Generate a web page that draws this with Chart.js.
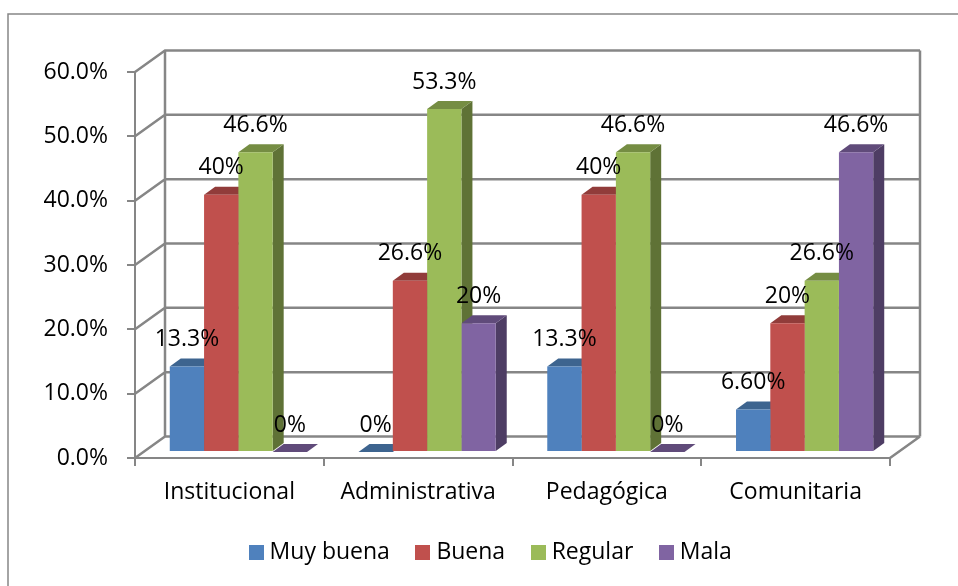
<!DOCTYPE html>
<html><head><meta charset="utf-8">
<style>html,body{margin:0;padding:0;background:#fff}#w{width:958px;height:586px;position:relative}</style>
<script src="https://cdn.jsdelivr.net/npm/chart.js@4"></script>
</head><body><div id="w"><canvas id="c" width="958" height="586"></canvas></div>
<script>
const categories = ['Institucional','Administrativa','Pedagógica','Comunitaria'];
const muyBuena = [13.3, 0, 13.3, 6.6];
const buena = [40, 26.6, 40, 20];
const regular = [46.6, 53.3, 46.6, 26.6];
const mala = [0, 20, 0, 46.6];
const muyBuenaLabels = ['13.3%','0%','13.3%','6.60%'];
const buenaLabels = ['40%','26.6%','40%','20%'];
const regularLabels = ['46.6%','53.3%','46.6%','26.6%'];
const malaLabels = ['0%','20%','0%','46.6%'];
const allLabels = [muyBuenaLabels, buenaLabels, regularLabels, malaLabels];
const colors = ['#4F81BD','#C0504D','#9BBB59','#8064A2'];
const topCol = ['#3D648F','#913C3A','#758D43','#604B7A'];
const sideCol = ['#2F4E70','#722F2E','#5F7236','#4E3D64'];
const FONT = '"Open Sans", sans-serif';
const FS = 23;
const GRID = '#868686';
const WALL = {dx:30, dy:-21.5};
const BAR = {dx:9, dy:-6, ddx:11, ddy:-8};

// 15px legend swatches, used as point styles so the text sits close to them
const swatches = colors.map(col=>{
  const s = document.createElement('canvas'); s.width = 15; s.height = 15;
  const g = s.getContext('2d'); g.fillStyle = col; g.fillRect(0,0,15,15);
  return s;
});

const plugin3d = {
  id:'plugin3d',
  afterLayout(chart){
    const L = chart.legend;
    L.left += 48; L.right += 48;
    L.top = 510; L.bottom = 595;
  },
  beforeDraw(chart){
    const c = chart.ctx;
    c.save(); c.strokeStyle = GRID; c.lineWidth = 1.5;
    c.beginPath(); c.moveTo(8,586); c.lineTo(8,14); c.lineTo(958,14); c.stroke();
    c.restore();
  },
  beforeDatasetsDraw(chart){
    const c = chart.ctx, y = chart.scales.y, a = chart.chartArea;
    c.save(); c.strokeStyle = GRID; c.lineWidth = 2.5; c.beginPath();
    y.ticks.forEach(t=>{
      const p = y.getPixelForValue(t.value);
      c.moveTo(a.left,p); c.lineTo(a.left+WALL.dx,p+WALL.dy); c.lineTo(a.right+WALL.dx,p+WALL.dy);
    });
    const py0 = y.getPixelForValue(0), py1 = y.getPixelForValue(y.max);
    c.moveTo(a.left+WALL.dx,py0+WALL.dy); c.lineTo(a.left+WALL.dx,py1+WALL.dy);
    c.moveTo(a.right+WALL.dx,py0+WALL.dy); c.lineTo(a.right+WALL.dx,py1+WALL.dy);
    c.moveTo(a.right,py0); c.lineTo(a.right+WALL.dx,py0+WALL.dy);
    c.stroke(); c.restore();
    // tops and sides go left to right, the front faces then cover them
    c.save(); c.translate(BAR.dx,BAR.dy);
    categories.forEach((_,i)=>{
      chart.data.datasets.forEach((ds,d)=>{
        const b = chart.getDatasetMeta(d).data[i];
        const l=b.x-b.width/2, r=b.x+b.width/2;
        c.fillStyle = sideCol[d]; c.beginPath();
        c.moveTo(r,b.y); c.lineTo(r+BAR.ddx,b.y+BAR.ddy); c.lineTo(r+BAR.ddx,b.base+BAR.ddy); c.lineTo(r,b.base); c.closePath(); c.fill();
        c.fillStyle = topCol[d]; c.beginPath();
        c.moveTo(l,b.y); c.lineTo(l+BAR.ddx,b.y+BAR.ddy); c.lineTo(r+BAR.ddx,b.y+BAR.ddy); c.lineTo(r,b.y); c.closePath(); c.fill();
      });
    });
    c.restore();
  },
  beforeDatasetDraw(chart){ chart.ctx.save(); chart.ctx.translate(BAR.dx,BAR.dy); },
  afterDatasetDraw(chart){ chart.ctx.restore(); },
  afterDatasetsDraw(chart){
    const c = chart.ctx;
    c.save(); c.font = FS+'px '+FONT; c.fillStyle='#000'; c.textAlign='center'; c.textBaseline='middle';
    chart.data.datasets.forEach((ds,d)=>{
      chart.getDatasetMeta(d).data.forEach((b,i)=>{
        c.fillText(allLabels[d][i], b.x+BAR.dx, b.y+BAR.dy-27);
      });
    });
    c.restore();
  }
};

new Chart(document.getElementById('c'),{
  type:'bar',
  data:{labels:categories,datasets:[
    {label:'Muy buena',data:muyBuena,backgroundColor:colors[0]},
    {label:'Buena',data:buena,backgroundColor:colors[1]},
    {label:'Regular',data:regular,backgroundColor:colors[2]},
    {label:'Mala',data:mala,backgroundColor:colors[3]}
  ]},
  options:{
    responsive:false,animation:false,
    layout:{padding:{left:0,right:68,top:72,bottom:0}},
    datasets:{bar:{categoryPercentage:0.727,barPercentage:1}},
    plugins:{
      tooltip:{enabled:false},
      legend:{position:'bottom',align:'center',labels:{
        usePointStyle:true,boxWidth:4,boxHeight:15,padding:31,color:'#000',font:{family:FONT,size:FS},
        generateLabels(chart){
          return Chart.defaults.plugins.legend.labels.generateLabels(chart).map((it,i)=>{it.pointStyle=swatches[i];return it;});
        }
      }}
    },
    scales:{
      x:{
        afterFit(s){s.height=64},
        grid:{drawOnChartArea:false,drawTicks:true,tickLength:8,color:GRID,lineWidth:2},
        border:{display:true,color:GRID,width:2},
        ticks:{color:'#000',font:{family:FONT,size:FS},padding:13,maxRotation:0}
      },
      y:{
        min:0,max:60,
        afterFit(s){s.width=135},
        grid:{drawOnChartArea:false,drawTicks:true,tickLength:8,color:GRID,lineWidth:2},
        border:{display:true,color:GRID,width:2},
        ticks:{stepSize:10,color:'#000',font:{family:FONT,size:FS},padding:19,callback:v=>v.toFixed(1)+'%'}
      }
    }
  },
  plugins:[plugin3d]
});
</script></body></html>
